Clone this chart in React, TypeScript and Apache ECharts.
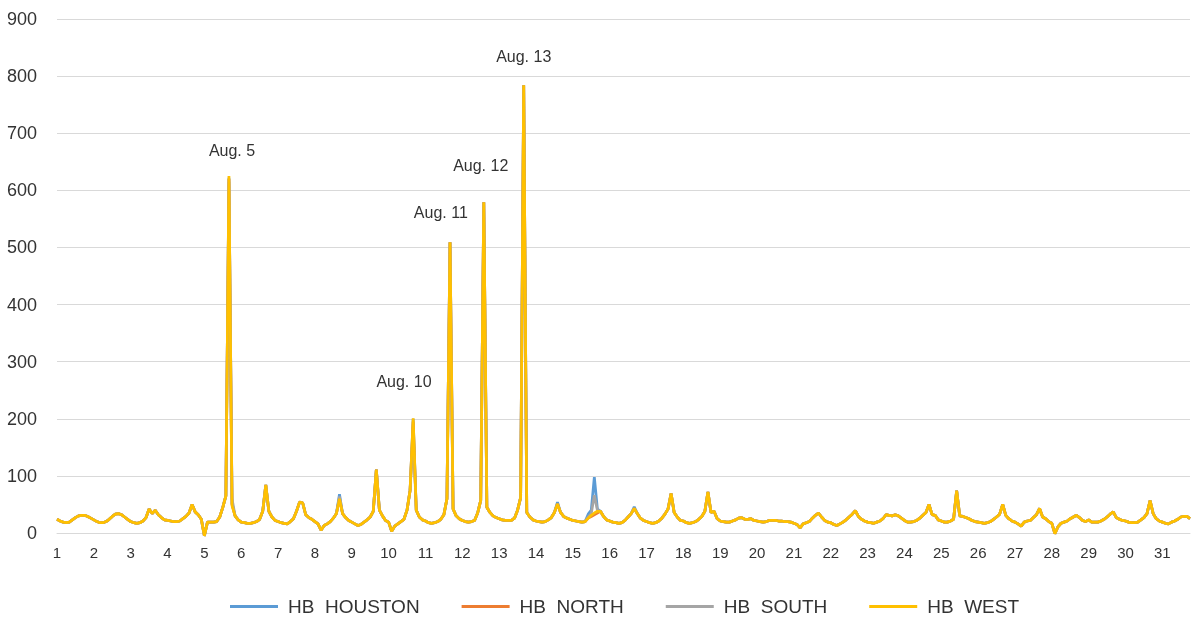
import React, { useEffect, useRef } from "react";
import * as echarts from "echarts";

// 2-hourly samples (12 per day), Aug 1 00:00 .. Aug 31 18:00
const hoursOfDay = [0, 2, 4, 6, 8, 10, 12, 14, 16, 18, 20, 22];

const westPrices = [
  24, 21, 19, 18, 19, 23, 27, 30, 31, 31, 29, 26,
  23, 20, 18, 18, 20, 24, 29, 33, 34, 32, 28, 24,
  20, 18, 17, 18, 21, 27, 42, 34, 40, 32, 27, 23,
  22, 21, 20, 20, 21, 25, 29, 35, 50, 37, 32, 24,
  -5, 19, 19, 19, 20, 28, 45, 65, 625, 48, 30, 23,
  19, 18, 17, 17, 18, 20, 24, 38, 84, 38, 28, 22,
  20, 18, 17, 16, 20, 25, 38, 54, 53, 32, 27, 24,
  20, 16, 5, 13, 16, 20, 26, 34, 60, 34, 27, 22,
  19, 16, 13, 15, 19, 23, 28, 38, 111, 40, 30, 22,
  19, 3, 12, 16, 20, 24, 40, 75, 201, 40, 28, 23,
  21, 18, 17, 18, 20, 24, 32, 60, 509, 42, 30, 25,
  22, 20, 19, 20, 22, 35, 57, 579, 45, 36, 30, 27,
  25, 23, 22, 22, 22, 26, 40, 62, 784, 36, 28, 23,
  21, 20, 19, 20, 23, 27, 36, 51, 36, 29, 26, 24,
  22, 21, 20, 19, 20, 26, 31, 35, 38, 38, 29, 23,
  21, 19, 18, 17, 18, 22, 28, 34, 43, 34, 26, 22,
  20, 18, 17, 18, 21, 26, 33, 42, 69, 36, 28, 22,
  21, 18, 17, 18, 20, 24, 29, 38, 72, 36, 38, 25,
  21, 20, 19, 19, 21, 23, 26, 27, 24, 24, 25, 22,
  21, 20, 19, 20, 22, 22, 22, 21, 21, 20, 20, 19,
  17, 15, 9, 16, 18, 20, 26, 31, 35, 28, 22, 19,
  18, 15, 13, 16, 19, 23, 28, 33, 39, 29, 24, 21,
  19, 18, 17, 19, 21, 25, 32, 31, 30, 32, 30, 26,
  22, 19, 19, 20, 22, 26, 31, 36, 50, 32, 31, 23,
  21, 19, 19, 21, 24, 74, 30, 29, 27, 25, 22, 20,
  19, 18, 17, 18, 20, 24, 28, 33, 50, 31, 25, 21,
  19, 16, 12, 19, 21, 22, 27, 32, 43, 28, 25, 20,
  17, -1, 11, 17, 19, 21, 25, 28, 31, 27, 22, 20,
  23, 19, 19, 19, 21, 24, 28, 33, 37, 27, 24, 22,
  21, 19, 18, 18, 19, 23, 27, 34, 57, 34, 25, 21,
  19, 17, 16, 19, 21, 24, 28, 29, 29, 25,
];

const houstonPrices = [
  24, 21, 19, 18, 19, 23, 27, 30, 31, 31, 29, 26,
  23, 20, 18, 18, 20, 24, 29, 33, 34, 32, 28, 24,
  20, 18, 17, 18, 21, 27, 42, 34, 40, 32, 27, 23,
  22, 21, 20, 20, 21, 25, 29, 35, 50, 37, 32, 24,
  -5, 19, 19, 19, 20, 28, 45, 65, 622, 52, 30, 23,
  19, 18, 17, 17, 18, 20, 24, 38, 84, 38, 28, 22,
  20, 18, 17, 16, 20, 25, 38, 54, 53, 32, 27, 24,
  20, 16, 5, 13, 16, 20, 26, 34, 68, 34, 27, 22,
  19, 16, 13, 15, 19, 23, 28, 38, 111, 40, 30, 22,
  19, 3, 12, 16, 20, 24, 40, 75, 200, 40, 28, 23,
  21, 18, 17, 18, 20, 24, 32, 60, 509, 42, 30, 25,
  22, 20, 19, 20, 22, 35, 57, 579, 45, 36, 30, 27,
  25, 23, 22, 22, 22, 26, 40, 62, 784, 36, 28, 23,
  21, 20, 19, 20, 23, 27, 36, 54, 36, 29, 26, 24,
  22, 21, 20, 19, 20, 33, 40, 98, 42, 38, 29, 23,
  21, 19, 18, 17, 18, 22, 28, 34, 46, 34, 26, 22,
  20, 18, 17, 18, 21, 26, 33, 42, 69, 36, 28, 22,
  21, 18, 17, 18, 20, 24, 29, 38, 72, 36, 38, 25,
  21, 20, 19, 19, 21, 23, 26, 27, 24, 24, 25, 22,
  21, 20, 19, 20, 22, 22, 22, 21, 21, 20, 20, 19,
  17, 15, 9, 16, 18, 20, 26, 31, 35, 28, 22, 19,
  18, 15, 13, 16, 19, 23, 28, 33, 39, 29, 24, 21,
  19, 18, 17, 19, 21, 25, 32, 31, 30, 32, 30, 26,
  22, 19, 19, 20, 22, 26, 31, 36, 50, 32, 31, 23,
  21, 19, 19, 21, 24, 74, 30, 29, 27, 25, 22, 20,
  19, 18, 17, 18, 20, 24, 28, 33, 50, 31, 25, 21,
  19, 16, 12, 19, 21, 22, 27, 32, 43, 28, 25, 20,
  17, -1, 11, 17, 19, 21, 25, 28, 31, 27, 22, 20,
  23, 19, 19, 19, 21, 24, 28, 33, 37, 27, 24, 22,
  21, 19, 18, 18, 19, 23, 27, 34, 57, 34, 25, 21,
  19, 17, 16, 19, 21, 24, 28, 29, 29, 25,
];

const northPrices = [
  24, 21, 19, 18, 19, 23, 27, 30, 31, 31, 29, 26,
  23, 20, 18, 18, 20, 24, 29, 33, 34, 32, 28, 24,
  20, 18, 17, 18, 21, 27, 42, 34, 40, 32, 27, 23,
  22, 21, 20, 20, 21, 25, 29, 35, 50, 37, 32, 24,
  -5, 19, 19, 19, 20, 28, 45, 65, 620, 50, 30, 23,
  19, 18, 17, 17, 18, 20, 24, 38, 84, 38, 28, 22,
  20, 18, 17, 16, 20, 25, 38, 54, 53, 32, 27, 24,
  20, 16, 5, 13, 16, 20, 26, 34, 60, 34, 27, 22,
  19, 16, 13, 15, 19, 23, 28, 38, 111, 40, 30, 22,
  19, 3, 12, 16, 20, 24, 40, 75, 195, 40, 28, 23,
  21, 18, 17, 18, 20, 24, 32, 60, 509, 42, 30, 25,
  22, 20, 19, 20, 22, 35, 57, 579, 45, 36, 30, 27,
  25, 23, 22, 22, 22, 26, 40, 62, 784, 36, 28, 23,
  21, 20, 19, 20, 23, 27, 36, 51, 36, 29, 26, 24,
  22, 21, 20, 19, 20, 26, 29, 32, 35, 38, 29, 23,
  21, 19, 18, 17, 18, 22, 28, 34, 43, 34, 26, 22,
  20, 18, 17, 18, 21, 26, 33, 42, 69, 36, 28, 22,
  21, 18, 17, 18, 20, 24, 29, 38, 72, 36, 38, 25,
  21, 20, 19, 19, 21, 23, 26, 27, 24, 24, 25, 22,
  21, 20, 19, 20, 22, 22, 22, 21, 21, 20, 20, 19,
  17, 15, 9, 16, 18, 20, 26, 31, 35, 28, 22, 19,
  18, 15, 13, 16, 19, 23, 28, 33, 39, 29, 24, 21,
  19, 18, 17, 19, 21, 25, 32, 31, 30, 32, 30, 26,
  22, 19, 19, 20, 22, 26, 31, 36, 50, 32, 31, 23,
  21, 19, 19, 21, 24, 74, 30, 29, 27, 25, 22, 20,
  19, 18, 17, 18, 20, 24, 28, 33, 50, 31, 25, 21,
  19, 16, 12, 19, 21, 22, 27, 32, 43, 28, 25, 20,
  17, -1, 11, 17, 19, 21, 25, 28, 31, 27, 22, 20,
  23, 19, 19, 19, 21, 24, 28, 33, 37, 27, 24, 22,
  21, 19, 18, 18, 19, 23, 27, 34, 57, 34, 25, 21,
  19, 17, 16, 19, 21, 24, 28, 29, 29, 25,
];

const southPrices = [
  24, 21, 19, 18, 19, 23, 27, 30, 31, 31, 29, 26,
  23, 20, 18, 18, 20, 24, 29, 33, 34, 32, 28, 24,
  20, 18, 17, 18, 21, 27, 42, 34, 40, 32, 27, 23,
  22, 21, 20, 20, 21, 25, 29, 35, 50, 37, 32, 24,
  -5, 19, 19, 19, 20, 28, 45, 65, 615, 60, 30, 23,
  19, 18, 17, 17, 18, 20, 24, 38, 84, 38, 28, 22,
  20, 18, 17, 16, 20, 25, 38, 54, 53, 32, 27, 24,
  20, 16, 5, 13, 16, 20, 26, 34, 64, 34, 27, 22,
  19, 16, 13, 15, 19, 23, 28, 38, 111, 40, 30, 22,
  19, 3, 12, 16, 20, 24, 40, 75, 180, 40, 28, 23,
  21, 18, 17, 18, 20, 24, 32, 60, 509, 42, 30, 25,
  22, 20, 19, 20, 22, 35, 57, 579, 45, 36, 30, 27,
  25, 23, 22, 22, 22, 26, 40, 62, 784, 36, 28, 23,
  21, 20, 19, 20, 23, 27, 36, 51, 36, 29, 26, 24,
  22, 21, 20, 19, 20, 28, 34, 66, 40, 38, 29, 23,
  21, 19, 18, 17, 18, 22, 28, 34, 43, 34, 26, 22,
  20, 18, 17, 18, 21, 26, 33, 42, 69, 36, 28, 22,
  21, 18, 17, 18, 20, 24, 29, 38, 72, 36, 38, 25,
  21, 20, 19, 19, 21, 23, 26, 27, 24, 24, 25, 22,
  21, 20, 19, 20, 22, 22, 22, 21, 21, 20, 20, 19,
  17, 15, 9, 16, 18, 20, 26, 31, 35, 28, 22, 19,
  18, 15, 13, 16, 19, 23, 28, 33, 39, 29, 24, 21,
  19, 18, 17, 19, 21, 25, 32, 31, 30, 32, 30, 26,
  22, 19, 19, 20, 22, 26, 31, 36, 50, 32, 31, 23,
  21, 19, 19, 21, 24, 74, 30, 29, 27, 25, 22, 20,
  19, 18, 17, 18, 20, 24, 28, 33, 50, 31, 25, 21,
  19, 16, 12, 19, 21, 22, 27, 32, 43, 28, 25, 20,
  17, -1, 11, 17, 19, 21, 25, 28, 31, 27, 22, 20,
  23, 19, 19, 19, 21, 24, 28, 33, 37, 27, 24, 22,
  21, 19, 18, 18, 19, 23, 27, 34, 57, 34, 25, 21,
  19, 17, 16, 19, 21, 24, 28, 29, 29, 25,
];

const seriesNames = ["HB  HOUSTON", "HB  NORTH", "HB  SOUTH", "HB  WEST"];
const seriesColors = ["#5B9BD5", "#ED7D31", "#A5A5A5", "#FFC000"];

// Annotations: label, sample index, value level of the text
const annotationLabels = ["Aug. 5", "Aug. 10", "Aug. 11", "Aug. 12", "Aug. 13"];
const annotationIndex = [57, 113, 125, 138, 152];
const annotationLevel = [669, 266, 562, 643, 834];

const categories = westPrices.map((_, i) => {
  const day = Math.floor(i / hoursOfDay.length) + 1;
  const hour = hoursOfDay[i % hoursOfDay.length];
  return `8/${day} ${hour}:00`;
});

const FONT = "'Liberation Sans', Arial, sans-serif";

export default function App() {
  const ref = useRef<HTMLDivElement>(null);

  useEffect(() => {
    if (!ref.current) return;
    const chart = echarts.init(ref.current, undefined, { renderer: "svg" });
    const allData = [houstonPrices, northPrices, southPrices, westPrices];

    chart.setOption({
      animation: false,
      textStyle: { fontFamily: FONT },
      grid: { left: 57, right: 1, top: 19, bottom: 84, containLabel: false },
      legend: {
        data: seriesNames,
        left: 225,
        top: 592,
        icon: "rect",
        itemWidth: 48,
        itemHeight: 3,
        itemGap: 42,
        textStyle: { fontSize: 19, color: "#333", fontFamily: FONT, padding: [0, 0, 0, 5] },
      },
      xAxis: {
        type: "category",
        data: categories,
        boundaryGap: false,
        axisLine: { show: true, lineStyle: { color: "#d9d9d9", width: 1 } },
        axisTick: { show: false },
        axisLabel: {
          interval: hoursOfDay.length - 1,
          margin: 12,
          fontSize: 15,
          color: "#333",
          fontFamily: FONT,
          formatter: (v: string) => v.split(" ")[0].split("/")[1],
        },
        splitLine: { show: false },
      },
      yAxis: {
        type: "value",
        min: 0,
        max: 900,
        interval: 100,
        axisLine: { show: false },
        axisTick: { show: false },
        axisLabel: { fontSize: 18, color: "#333", margin: 20, fontFamily: FONT },
        splitLine: { lineStyle: { color: "#d9d9d9", width: 1 } },
      },
      series: seriesNames.map((name, si) => ({
        name,
        type: "line",
        data: allData[si],
        symbol: "none",
        clip: false,
        color: seriesColors[si],
        lineStyle: { width: 2.75, color: seriesColors[si] },
        silent: true,
        markPoint:
          si === 3
            ? {
                symbol: "circle",
                symbolSize: 0,
                silent: true,
                label: {
                  show: true,
                  position: "inside",
                  formatter: "{b}",
                  fontSize: 16,
                  color: "#333",
                  fontFamily: FONT,
                },
                data: annotationLabels.map((label, k) => ({
                  name: label,
                  coord: [categories[annotationIndex[k]], annotationLevel[k]],
                })),
              }
            : undefined,
      })),
    });

    return () => chart.dispose();
  }, []);

  return (
    <div
      ref={ref}
      style={{ position: "fixed", left: 0, top: 0, width: "1191px", height: "617px" }}
    />
  );
}
